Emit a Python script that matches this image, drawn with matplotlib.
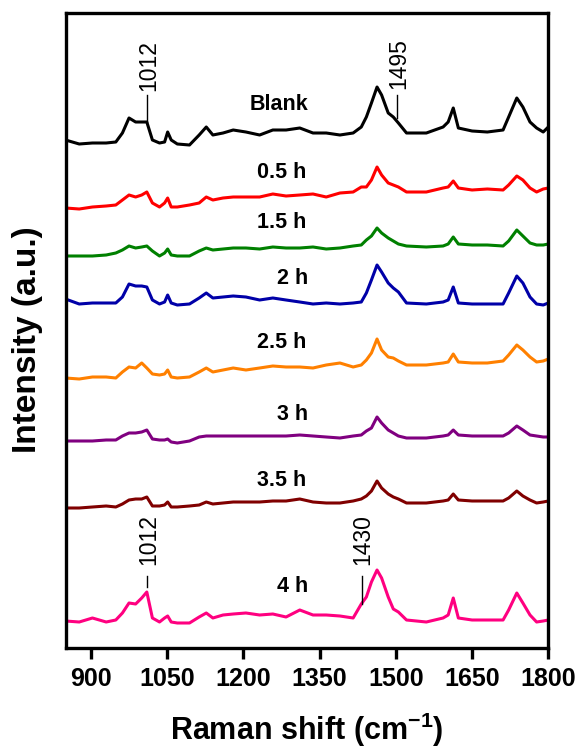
import matplotlib
matplotlib.use("Agg")
import matplotlib.pyplot as plt

plt.rcParams['font.family'] = ['Liberation Sans', 'DejaVu Sans']
plt.rcParams['mathtext.fontset'] = 'custom'
plt.rcParams['mathtext.rm'] = 'Liberation Sans:bold'
plt.rcParams['mathtext.bf'] = 'Liberation Sans:bold'
plt.rcParams['mathtext.it'] = 'Liberation Sans:bold'

# Raman shift sampling (cm^-1)
wavenumber = [850, 877, 903, 930, 949, 962, 975, 988, 1000, 1010,
              1021, 1035, 1045, 1051, 1058, 1070, 1094, 1113, 1127, 1140,
              1160, 1180, 1205, 1232, 1258, 1284, 1311, 1337, 1363, 1390,
              1416, 1432, 1442, 1452, 1463, 1472, 1485, 1495, 1505, 1521,
              1560, 1593, 1603, 1613, 1623, 1650, 1680, 1711, 1722, 1738,
              1750, 1764, 1777, 1790, 1800]

labels = ["Blank", "0.5 h", "1.5 h", "2 h", "2.5 h", "3 h", "3.5 h", "4 h"]
colors = ["#000000", "#FF0000", "#008000", "#0000A8", "#FF8000", "#800080", "#800000", "#FF0080"]
offsets = [503, 438, 391, 342, 268, 205, 139, 24]

blank = [5, 1, 2, 2, 3, 12, 27, 23, 23, 23, 5, 2, 3, 13, 5, 1, 0, 10, 18, 10,
         12, 15, 13, 10, 15, 15, 17, 12, 12, 10, 12, 18, 28, 42, 58, 50, 32, 28, 22, 12,
         12, 18, 23, 37, 17, 14, 13, 15, 28, 47, 38, 23, 17, 13, 18]
h05 = [2, 1, 3, 4, 5, 10, 15, 13, 15, 18, 7, 3, 7, 12, 3, 3, 5, 7, 13, 10,
       12, 13, 13, 13, 16, 14, 15, 16, 13, 17, 18, 23, 23, 30, 43, 35, 27, 25, 23, 18,
       18, 22, 23, 29, 22, 20, 21, 20, 25, 34, 30, 22, 18, 21, 22]
h15 = [1, 1, 1, 2, 4, 7, 11, 9, 10, 11, 6, 1, 4, 8, 2, 1, 1, 6, 9, 7,
       8, 9, 9, 8, 10, 9, 9, 10, 8, 9, 11, 12, 17, 21, 29, 24, 19, 16, 13, 11,
       10, 11, 13, 20, 13, 12, 12, 11, 16, 27, 21, 14, 12, 12, 13]
h2 = [7, 2, 3, 3, 3, 9, 22, 20, 20, 19, 6, 2, 4, 11, 3, 1, 2, 8, 13, 8,
      9, 10, 9, 6, 8, 6, 4, 2, 3, 2, 3, 4, 13, 26, 41, 34, 23, 18, 14, 3,
      2, 4, 6, 19, 3, 2, 2, 2, 13, 30, 23, 9, 2, 1, 3]
h25 = [2, 1, 3, 3, 2, 8, 13, 12, 17, 12, 6, 5, 6, 10, 3, 2, 3, 8, 12, 8,
       10, 12, 10, 12, 14, 13, 13, 12, 15, 17, 13, 15, 20, 27, 41, 30, 23, 22, 19, 15,
       15, 17, 18, 26, 18, 17, 17, 19, 25, 35, 30, 23, 18, 19, 21]
h3 = [2, 2, 2, 3, 3, 7, 10, 10, 11, 13, 4, 3, 3, 4, 1, 0, 2, 6, 7, 7,
      7, 7, 7, 7, 7, 7, 8, 7, 6, 5, 7, 8, 12, 15, 26, 20, 13, 10, 7, 5,
      5, 7, 8, 13, 8, 7, 7, 7, 10, 17, 13, 8, 7, 6, 6]
h35 = [1, 1, 2, 3, 2, 5, 9, 10, 10, 12, 3, 3, 4, 7, 2, 2, 3, 4, 7, 5,
       6, 7, 7, 7, 8, 8, 10, 7, 6, 6, 8, 10, 13, 18, 28, 21, 15, 12, 10, 6,
       6, 8, 9, 15, 9, 8, 8, 8, 11, 18, 13, 9, 6, 7, 8]
h4 = [3, 2, 6, 2, 4, 11, 21, 20, 26, 32, 6, 2, 6, 8, 2, 1, 1, 7, 11, 6,
      9, 10, 11, 9, 10, 7, 14, 9, 9, 8, 6, 20, 27, 42, 54, 46, 27, 15, 12, 4,
      2, 6, 9, 26, 6, 4, 4, 4, 14, 31, 21, 9, 2, 3, 4]
spectra = [blank, h05, h15, h2, h25, h3, h35, h4]

# label positions (x in cm^-1, y in plot units)
label_x = [1271, 1275, 1275, 1297, 1275, 1297, 1275, 1297]
label_y = [543, 475, 426, 370, 305, 234, 167, 61]

# peak markers: text, x, line bottom, line top, text bottom
peak_text = ["1012", "1495", "1012", "1430"]
peak_x = [1011, 1503, 1011, 1433]
peak_y0 = [526, 530, 61, 44]
peak_y1 = [553, 553, 72, 72]
peak_ty = [557, 559, 83, 83]

xticks = [900, 1050, 1200, 1350, 1500, 1650, 1800]

fig = plt.figure(figsize=(5.82, 7.5), dpi=100)
ax = fig.add_axes([65.5 / 582, 1 - 648 / 750, (548.3 - 65.5) / 582, (648 - 13) / 750])

for s, off, c in zip(spectra, offsets, colors):
    ax.plot(wavenumber, [v + off for v in s], color=c, lw=2.2, solid_joinstyle='round')

for t, x, y in zip(labels, label_x, label_y):
    ax.text(x, y, t, fontsize=15.5, fontweight='bold', ha='center', va='center')

for t, x, y0, y1, ty in zip(peak_text, peak_x, peak_y0, peak_y1, peak_ty):
    ax.plot([x, x], [y0, y1], color='black', lw=1.0)
    ax.text(x + 2, ty, t, rotation=90, fontsize=16.5, ha='center', va='bottom')

ax.set_xlim(850, 1800)
ax.set_ylim(0, 635)
ax.set_xticks(xticks)
ax.set_xticklabels([str(v) for v in xticks], fontsize=18, fontweight='bold')
ax.set_yticks([])
ax.tick_params(axis='x', direction='out', length=8, width=2.4, pad=6, top=False)
for sp in ax.spines.values():
    sp.set_linewidth(2.4)

fig.text(28 / 582, 1 - 340 / 750, "Intensity (a.u.)", rotation=90, fontsize=24,
         fontweight='bold', ha='center', va='center')
fig.text(307 / 582, 10 / 750, r"Raman shift (cm$^{\mathbf{-1}}$)", fontsize=22,
         fontweight='bold', ha='center', va='baseline')

fig.savefig("out.png", dpi=100)
